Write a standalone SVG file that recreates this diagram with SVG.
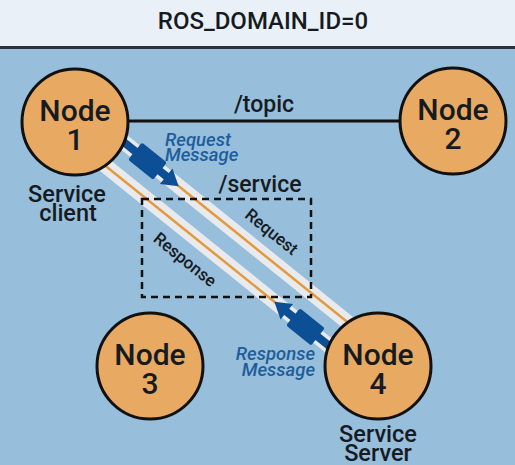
<svg xmlns="http://www.w3.org/2000/svg" width="515" height="465" viewBox="0 0 515 465">
<defs>
<style>
.t{font-family:Roboto,"Liberation Sans",sans-serif;font-weight:500;fill:#161b22}
.node circle{fill:#e8aa62;stroke:#111;stroke-width:3}
.nl{font-size:30px;text-anchor:middle}
.cap{font-size:23.5px;text-anchor:middle}
.msg{font-family:Roboto,"Liberation Sans",sans-serif;font-weight:500;font-style:italic;font-size:18.5px;fill:#1d5d9c}
.band{stroke:#e9eaee;stroke-width:15}
.orange{stroke:#e39a3d;stroke-width:2.5}
.blue{fill:#0d4f94;stroke:none}
</style>
</defs>
<rect x="0" y="0" width="515" height="47" fill="#e9f0f7"/>
<rect x="0" y="47" width="515" height="418" fill="#97bedb"/>
<line x1="0" y1="47.5" x2="515" y2="47.5" stroke="#2a313a" stroke-width="3"/>
<text class="t" x="263" y="29" font-size="24" text-anchor="middle">ROS_DOMAIN_ID=0</text>

<g id="connectors">
<line x1="75" y1="121" x2="453" y2="121" stroke="#111" stroke-width="3"/>
<g transform="translate(75,122) rotate(38.84)">
<line class="band" x1="0" y1="-15" x2="389" y2="-15"/>
<line class="band" x1="0" y1="15" x2="389" y2="15"/>
<line class="orange" x1="0" y1="-15" x2="389" y2="-15"/>
<line class="orange" x1="0" y1="15" x2="389" y2="15"/>
<g id="request-message">
<rect class="blue" x="45" y="-19" width="62" height="8"/>
<rect class="blue" x="65" y="-26" width="32" height="22" rx="2"/>
<polygon class="blue" points="105,-25 121,-15 105,-5"/>
</g>
<g id="response-message">
<rect class="blue" x="282" y="11" width="62" height="8"/>
<rect class="blue" x="292" y="4" width="32" height="22" rx="2"/>
<polygon class="blue" points="284,5 268,15 284,25"/>
</g>
<text class="t" x="222" y="-32" font-size="17" text-anchor="middle">Request</text>
<text class="t" x="172" y="44" font-size="17" text-anchor="middle">Response</text>
</g>
<rect x="142" y="199" width="169" height="98" fill="none" stroke="#111" stroke-width="2.5" stroke-dasharray="7 5"/>
<text class="t" x="264" y="112" font-size="23" text-anchor="middle">/topic</text>
<text class="t" x="260" y="192" font-size="23" text-anchor="middle">/service</text>
<text class="msg" x="165" y="146">Request</text>
<text class="msg" x="165" y="161">Message</text>
<text class="msg" x="315" y="360" text-anchor="end">Response</text>
<text class="msg" x="315" y="376" text-anchor="end">Message</text>
</g>

<g id="node1" class="node">
<circle cx="75" cy="122" r="53"/>
<text class="t nl" x="75" y="121">Node</text>
<text class="t nl" x="75" y="150">1</text>
<text class="t cap" x="67" y="202">Service</text>
<text class="t cap" x="68" y="221">client</text>
</g>
<g id="node2" class="node">
<circle cx="453" cy="121" r="53"/>
<text class="t nl" x="453" y="120">Node</text>
<text class="t nl" x="453" y="149">2</text>
</g>
<g id="node3" class="node">
<circle cx="150" cy="366" r="53"/>
<text class="t nl" x="150" y="365">Node</text>
<text class="t nl" x="150" y="394">3</text>
</g>
<g id="node4" class="node">
<circle cx="378" cy="366" r="53"/>
<text class="t nl" x="378" y="365">Node</text>
<text class="t nl" x="378" y="394">4</text>
<text class="t cap" x="378" y="442">Service</text>
<text class="t cap" x="378" y="461">Server</text>
</g>
</svg>
